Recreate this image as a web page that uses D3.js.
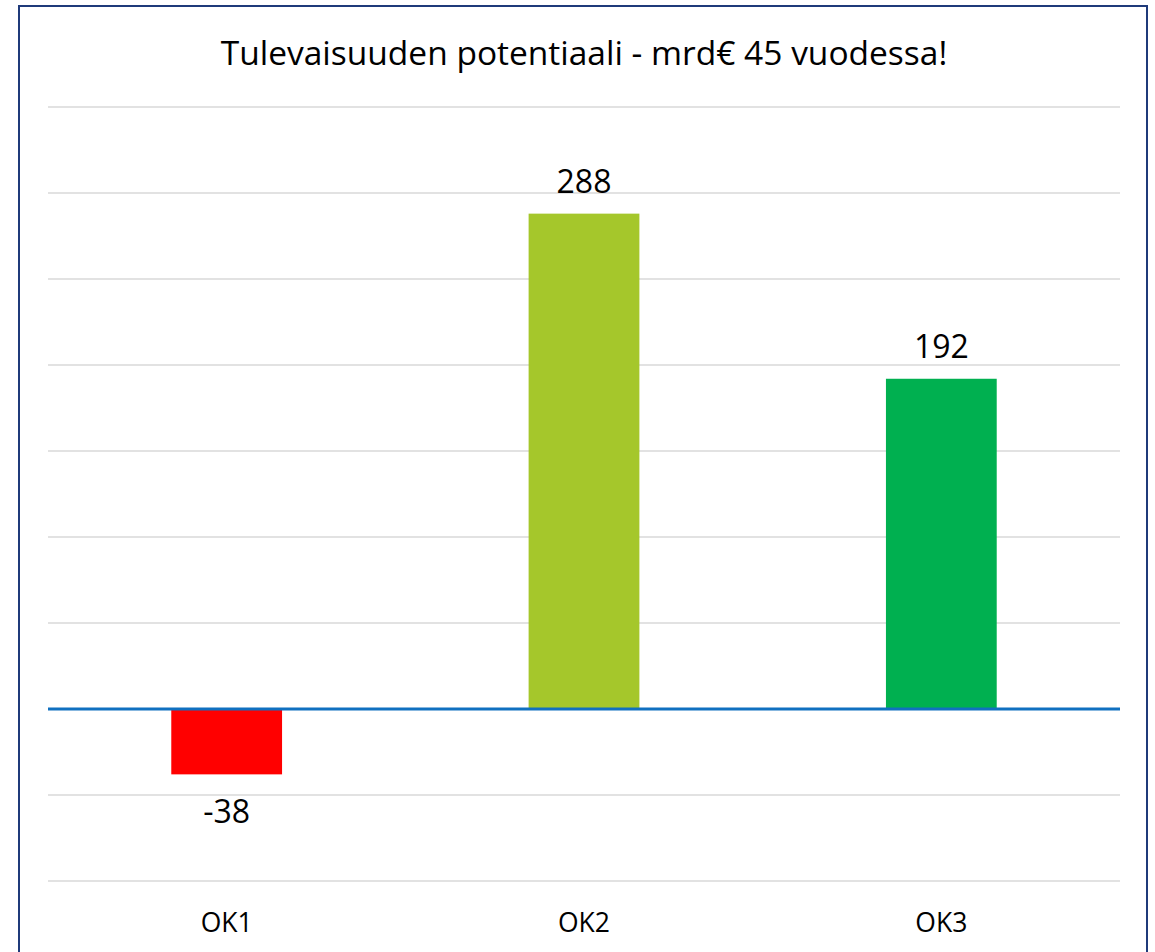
<!DOCTYPE html>
<html>
<head>
<meta charset="utf-8">
<script src="https://cdn.jsdelivr.net/npm/d3@7"></script>
<style>
  body { margin: 0; background: #fff; }
  text { font-family: "Open Sans", "Noto Sans", sans-serif; fill: #000; }
</style>
</head>
<body>
<svg id="chart" width="1155" height="952"></svg>
<script>
const categories = ["OK1", "OK2", "OK3"];
const values = [-38, 288, 192];
const colors = ["#ff0000", "#a5c72b", "#00b050"];
const yTicks = [-100, -50, 0, 50, 100, 150, 200, 250, 300, 350];
const title = "Tulevaisuuden potentiaali - mrd€ 45 vuodessa!";

const svg = d3.select("#chart");

// frame
svg.append("rect")
  .attr("x", 19).attr("y", 6)
  .attr("width", 1128).attr("height", 960)
  .attr("fill", "#fff")
  .attr("stroke", "#1f3a7a")
  .attr("stroke-width", 2);

const left = 48, right = 1120;
const x = d3.scaleBand().domain(categories).range([left, right]).paddingInner(0.69).paddingOuter(0.345);
const y = d3.scaleLinear().domain([-100, 350]).range([881, 107]);

// gridlines
svg.append("g").selectAll("line")
  .data(yTicks.filter(d => d !== 0))
  .enter().append("line")
    .attr("x1", left).attr("x2", right)
    .attr("y1", d => y(d)).attr("y2", d => y(d))
    .attr("stroke", "#d9d9d9")
    .attr("stroke-width", 1.5);

// bars
svg.append("g").selectAll("rect")
  .data(values)
  .enter().append("rect")
    .attr("x", (d, i) => x(categories[i]))
    .attr("width", x.bandwidth())
    .attr("y", d => y(Math.max(0, d)))
    .attr("height", d => Math.abs(y(d) - y(0)))
    .attr("fill", (d, i) => colors[i]);

// zero line
svg.append("line")
  .attr("x1", left).attr("x2", right)
  .attr("y1", y(0)).attr("y2", y(0))
  .attr("stroke", "#1070c0")
  .attr("stroke-width", 3);

// value labels
svg.append("g").selectAll("text")
  .data(values)
  .enter().append("text")
    .attr("x", (d, i) => x(categories[i]) + x.bandwidth() / 2)
    .attr("y", d => d >= 0 ? y(d) - 21 : y(d) + 49)
    .attr("text-anchor", "middle")
    .attr("font-size", 32)
    .text(d => d);

// category labels
svg.append("g").selectAll("text")
  .data(categories)
  .enter().append("text")
    .attr("x", d => x(d) + x.bandwidth() / 2)
    .attr("y", 932)
    .attr("text-anchor", "middle")
    .attr("font-size", 26.5)
    .text(d => d);

// title
svg.append("text")
  .attr("x", 584).attr("y", 65)
  .attr("text-anchor", "middle")
  .attr("font-size", 33.5)
  .text(title);
</script>
</body>
</html>
